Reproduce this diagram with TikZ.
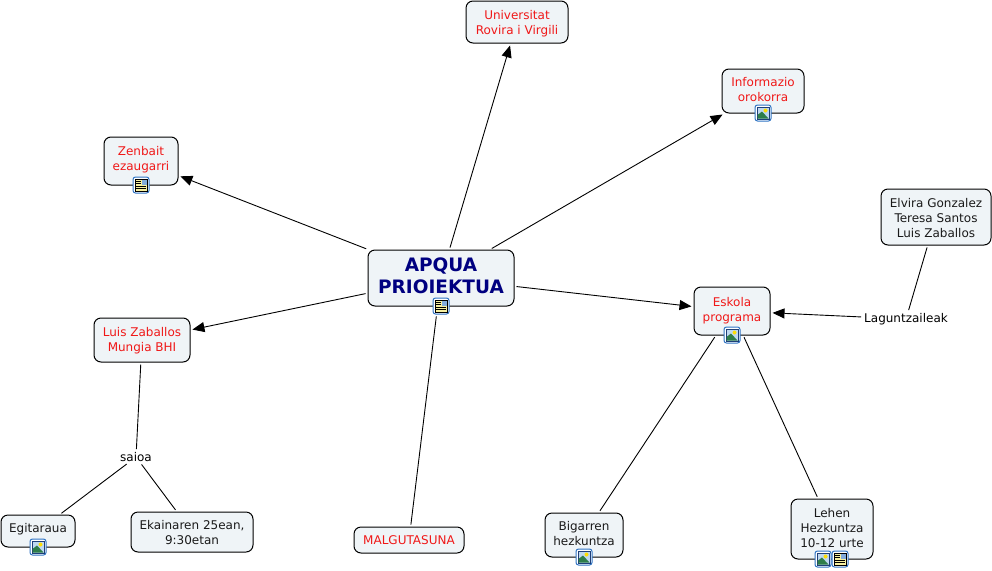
\documentclass[tikz,border=0pt]{standalone}
\usepackage{fontspec}
\setmainfont{DejaVu Sans}
\usetikzlibrary{arrows.meta}
\definecolor{boxfill}{HTML}{EFF4F7}
\definecolor{mapred}{HTML}{F01818}
\definecolor{mapnavy}{HTML}{000080}
\definecolor{mapink}{HTML}{1A1A1A}
\definecolor{iconblue}{HTML}{2F74C4}
\definecolor{icondark}{HTML}{1F3F78}
\definecolor{iconsky}{HTML}{BFD8F0}
\definecolor{icongreen}{HTML}{2E7D4A}
\definecolor{iconyel}{HTML}{F7F0A0}
\newcommand{\tx}[2]{\smash{\raisebox{#1pt}{\begin{tabular}{@{}c@{}}#2\end{tabular}}}}
\tikzset{
  x=1pt,y=-1pt,
  mapbox/.style={draw=black,line width=1pt,fill=boxfill,rounded corners=7pt,inner sep=0pt,
    font=\fontsize{12}{15}\selectfont},
  redbox/.style={mapbox,text=mapred},
  blackbox/.style={mapbox,text=mapink},
  titlebox/.style={mapbox,text=mapnavy,font=\fontsize{18.5}{22}\selectfont\bfseries},
  plain/.style={inner sep=1pt,text=black,font=\fontsize{12}{15}\selectfont},
  link/.style={draw=black,line width=0.9pt,shorten <=2pt,shorten >=2pt},
  arrowlink/.style={link,-{Triangle[length=12pt,width=10pt]}},
  iconframe/.style={draw=iconblue,line width=1pt,fill=white,rounded corners=2.5pt},
  imgicon/.pic={
    \path[iconframe] (-8,-8) rectangle (8,8);
    \path[fill=iconsky,draw=icondark,line width=.8pt] (-6,-6) rectangle (6,6);
    \fill[yellow!80!orange] (2.5,-2.5) circle (2);
    \fill[icongreen] (-5.5,5.5) -- (-5.5,2) -- (-1,-1.5) -- (5.5,5.5) -- cycle;
  },
  docicon/.pic={
    \path[iconframe] (-8,-8) rectangle (8,8);
    \path[fill=iconyel,draw=black,line width=.8pt] (-6,-6) rectangle (6,6);
    \fill[iconblue!60] (0.5,-5.5) rectangle (5.5,-0.5);
    \draw[black,line width=.8pt] (-5,-3.5) -- (-.5,-3.5) (-5,-1.5) -- (-.5,-1.5) (-5,1) -- (5,1) (-5,3.2) -- (5,3.2);
  },
}
\begin{document}
\begin{tikzpicture}
\useasboundingbox (0,0) rectangle (992,570);
\node[titlebox,minimum width=146pt,minimum height=56pt] (apqua) at (441,278) {\tx{-4}{APQUA\\PRIOIEKTUA}};
\node[redbox,minimum width=102pt,minimum height=42pt] (urv) at (517,22) {\tx{-5}{Universitat\\Rovira i Virgili}};
\node[redbox,minimum width=82pt,minimum height=44pt] (info) at (763,91) {\tx{-3}{Informazio\\orokorra}};
\node[redbox,minimum width=74pt,minimum height=48pt] (zenb) at (141,161) {\tx{-2}{Zenbait\\ezaugarri}};
\node[blackbox,minimum width=110pt,minimum height=56pt] (elvira) at (936,217) {\tx{-5}{Elvira Gonzalez\\Teresa Santos\\Luis Zaballos}};
\node[redbox,minimum width=76pt,minimum height=48pt] (eskola) at (732,311) {\tx{-2.5}{Eskola\\programa}};
\node[redbox,minimum width=96pt,minimum height=44pt] (luis) at (142,340) {\tx{-4}{Luis Zaballos\\Mungia BHI}};
\node[redbox,minimum width=110pt,minimum height=26pt] (malgu) at (409,540) {\tx{-4}{MALGUTASUNA}};
\node[blackbox,minimum width=78pt,minimum height=44pt] (bigarren) at (584,535) {\tx{-3}{Bigarren\\hezkuntza}};
\node[blackbox,minimum width=82pt,minimum height=60pt] (lehen) at (832,529) {\tx{-3}{Lehen\\Hezkuntza\\10-12 urte}};
\node[blackbox,minimum width=74pt,minimum height=32pt] (egit) at (38,531) {\tx{-1}{Egitaraua}};
\node[blackbox,minimum width=122pt,minimum height=40pt] (ekain) at (192,532) {\tx{-5}{Ekainaren 25ean,\\9:30etan}};
\node[plain] (lagun) at (906,319) {Laguntzaileak};
\node[plain] (saioa) at (136,457) {saioa};
\draw[arrowlink] (apqua) -- (urv);
\draw[arrowlink] (apqua) -- (info);
\draw[arrowlink] (apqua) -- (zenb);
\draw[arrowlink] (apqua) -- (eskola);
\draw[arrowlink] (apqua) -- (luis);
\draw[link,shorten <=10pt] (apqua) -- (malgu);
\draw[arrowlink] (lagun) -- (eskola);
\draw[link] (lagun) -- (elvira);
\draw[link] (eskola) -- (bigarren);
\draw[link] (eskola) -- (lehen);
\draw[link] (luis) -- (saioa);
\draw[link] (saioa) -- (egit);
\draw[link] (saioa) -- (ekain);
\pic at (441,306) {docicon};
\pic at (763,113) {imgicon};
\pic at (141,185) {docicon};
\pic at (732,335) {imgicon};
\pic at (584,557) {imgicon};
\pic at (823,559) {imgicon};
\pic at (840,559) {docicon};
\pic at (38,547) {imgicon};
\end{tikzpicture}
\end{document}
